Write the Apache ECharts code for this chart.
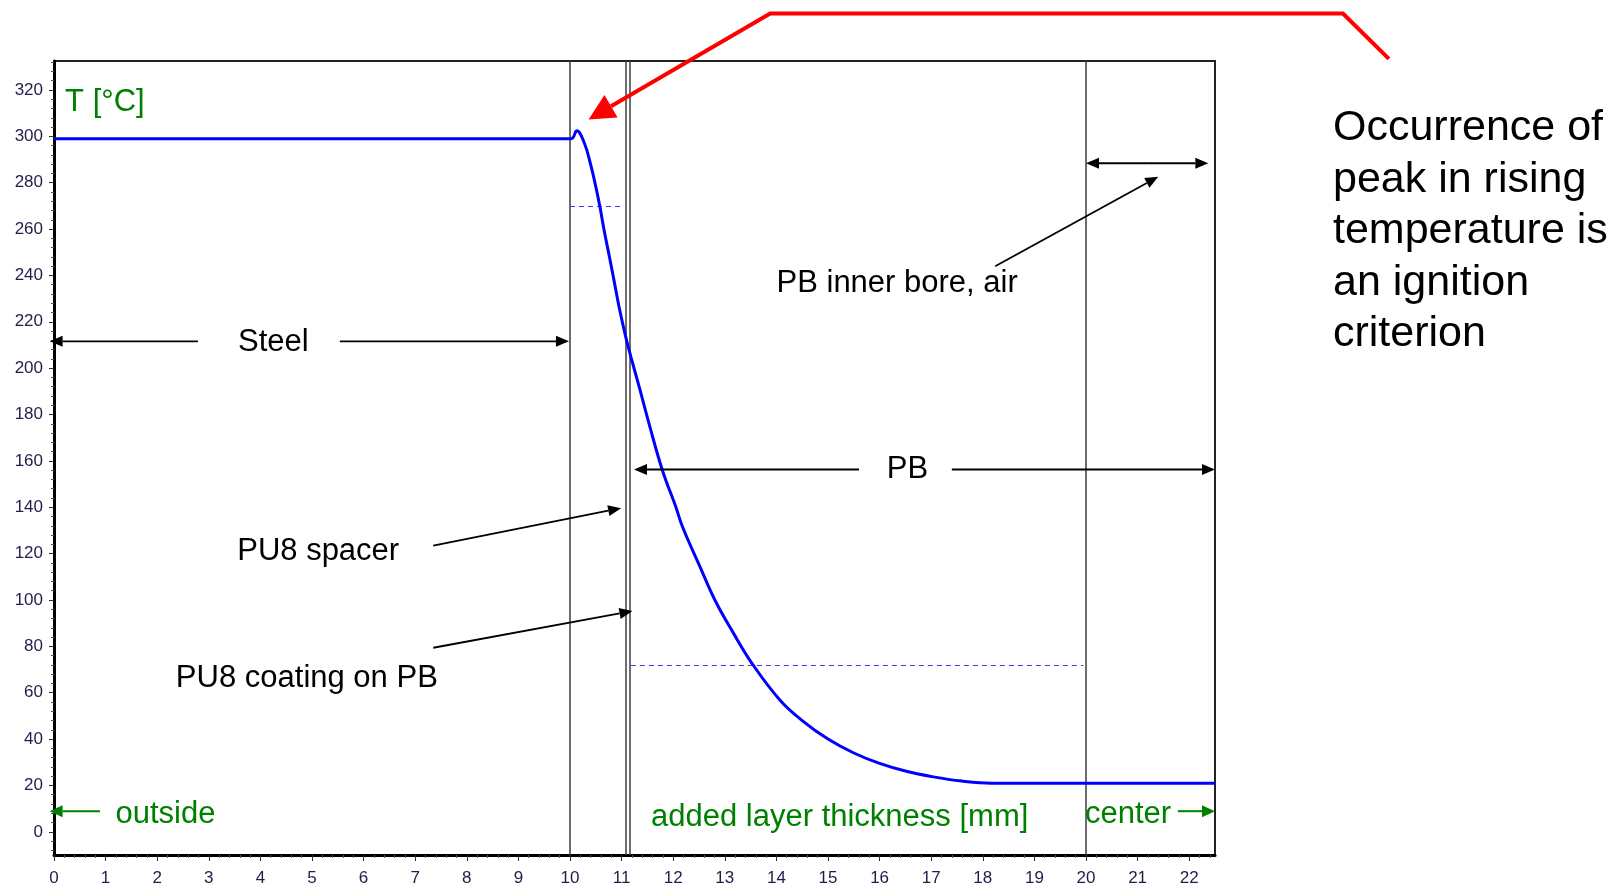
<!DOCTYPE html>
<html>
<head>
<meta charset="utf-8">
<title>Temperature profile through the layers</title>
<script src="https://cdn.jsdelivr.net/npm/echarts@6/dist/echarts.min.js"></script>
<style>
  html, body { margin: 0; padding: 0; background: #fff; }
  #chart { width: 1617px; height: 886px; }
</style>
</head>
<body>
<div id="chart"></div>
<script>
// Temperature [°C] versus added layer thickness [mm]
const thickness = [0, 10.02, 10.13, 10.28, 10.41, 10.50, 10.58, 10.66, 10.76, 10.86, 10.95,
  11.08, 11.18, 11.34, 11.53, 11.79, 12.05, 12.18, 12.52, 12.81, 13.17, 13.55, 14.07,
  14.5, 15.0, 15.5, 16.0, 16.5, 17.04, 17.59, 18.17, 22.5];
const temperature = [299, 299, 302.4, 297, 286.9, 278.3, 269.6, 259.6, 248.5, 237, 226.5,
  213.5, 204.9, 192, 176.2, 156, 140.2, 131.6, 114.3, 99.9, 85.6, 71.9, 56.8,
  48.0, 40.0, 34.0, 29.5, 26.2, 23.7, 21.9, 21, 21];

// Layer boundaries: steel | PU8 spacer | PU8 coating | PB | inner bore
const layerBounds = [10, 11.08, 11.16, 20];

// Dashed reference levels
const refTemps = [270, 72];
const refFrom = [10, 11.18];
const refTo = [11.0, 19.95];

// Tick labels
const xTickValues = [0, 1, 2, 3, 4, 5, 6, 7, 8, 9, 10, 11, 12, 13, 14, 15, 16, 17, 18, 19, 20, 21, 22];
const yTickValues = [0, 20, 40, 60, 80, 100, 120, 140, 160, 180, 200, 220, 240, 260, 280, 300, 320];

const X_MIN = 0, X_MAX = 22.5, Y_MIN = -10, Y_MAX = 332.5;

const xMinor = [];
for (let i = 1; i < 113; i++) { if (i % 5 !== 0) xMinor.push(+(i * 0.2).toFixed(1)); }
const yMinor = [];
for (let v = -8; v < Y_MAX; v += 4) { if (v % 20 !== 0) yMinor.push(v); }

const FONT = '"Liberation Sans", Arial, sans-serif';
const tickLabel = { fontFamily: FONT, fontSize: 17, color: '#1e1e4a' };

const curve = thickness.map((x, i) => [x, temperature[i]]);

const markLines = layerBounds.map(v => ({
  xAxis: v,
  lineStyle: { color: '#3c3c3c', width: 1.5, type: 'solid' }
}));
refTemps.forEach((t, i) => {
  markLines.push([
    { coord: [refFrom[i], t], lineStyle: { color: '#3a3aff', width: 1.2, type: [5, 4] } },
    { coord: [refTo[i], t] }
  ]);
});

const chart = echarts.init(document.getElementById('chart'), null, { renderer: 'canvas' });

const option = {
  animation: false,
  backgroundColor: '#fff',
  grid: {
    left: 54, right: 402, top: 61, bottom: 31,
    containLabel: false,
    outerBoundsMode: 'none',
    show: true, borderColor: '#222', borderWidth: 2, backgroundColor: 'transparent'
  },
  xAxis: [{
    type: 'value', min: X_MIN, max: X_MAX, position: 'bottom',
    axisLine: { show: true, onZero: false, lineStyle: { color: '#000', width: 3 } },
    axisTick: { show: true, customValues: xTickValues, length: 6, lineStyle: { color: '#333', width: 1 } },
    axisLabel: Object.assign({ customValues: xTickValues, margin: 15 }, tickLabel),
    splitLine: { show: false }
  }, {
    type: 'value', min: X_MIN, max: X_MAX, position: 'bottom',
    axisLine: { show: false, onZero: false },
    axisTick: { show: true, customValues: xMinor, length: 3, lineStyle: { color: '#555', width: 1 } },
    axisLabel: { show: false },
    splitLine: { show: false }
  }],
  yAxis: [{
    type: 'value', min: Y_MIN, max: Y_MAX, position: 'left',
    axisLine: { show: true, onZero: false, lineStyle: { color: '#000', width: 3 } },
    axisTick: { show: true, customValues: yTickValues, length: 5, lineStyle: { color: '#333', width: 1 } },
    axisLabel: Object.assign({ customValues: yTickValues, margin: 11 }, tickLabel),
    splitLine: { show: false }
  }, {
    type: 'value', min: Y_MIN, max: Y_MAX, position: 'left',
    axisLine: { show: false, onZero: false },
    axisTick: { show: true, customValues: yMinor, length: 3, lineStyle: { color: '#555', width: 1 } },
    axisLabel: { show: false },
    splitLine: { show: false }
  }],
  series: [{
    type: 'line',
    xAxisIndex: 0, yAxisIndex: 0,
    data: curve,
    showSymbol: false,
    smooth: 0.4,
    lineStyle: { color: '#0000ff', width: 3 },
    z: 3,
    markLine: {
      silent: true,
      symbol: 'none',
      label: { show: false },
      data: markLines,
      z: 2
    }
  }]
};

chart.setOption(option);

// ---- annotations, placed in axis units ----
const P = (x, y) => chart.convertToPixel({ gridIndex: 0 }, [x, y]);

function arrowHead(from, tip, len, half) {
  const dx = tip[0] - from[0], dy = tip[1] - from[1];
  const d = Math.hypot(dx, dy) || 1;
  const ux = dx / d, uy = dy / d;
  const bx = tip[0] - ux * len, by = tip[1] - uy * len;
  return {
    base: [bx, by],
    points: [tip, [bx - uy * half, by + ux * half], [bx + uy * half, by - ux * half]]
  };
}

const graphics = [];

function arrow(fromD, tipD, color, width, len, half) {
  const from = P(fromD[0], fromD[1]);
  const tip = P(tipD[0], tipD[1]);
  const h = arrowHead(from, tip, len, half);
  graphics.push({
    type: 'line', silent: true, z: 10,
    shape: { x1: from[0], y1: from[1], x2: h.base[0], y2: h.base[1] },
    style: { stroke: color, lineWidth: width }
  });
  graphics.push({
    type: 'polygon', silent: true, z: 10,
    shape: { points: h.points },
    style: { fill: color }
  });
}

function label(text, at, color, align, size) {
  const p = P(at[0], at[1]);
  graphics.push({
    type: 'text', silent: true, z: 11,
    x: p[0], y: p[1],
    style: { text: text, font: (size || 31) + 'px ' + FONT, fill: color, align: align || 'center', verticalAlign: 'middle' }
  });
}

const BLACK = '#000';
const GREEN = '#008000';

// Steel
label('Steel', [4.25, 211.3], BLACK);
arrow([2.79, 211.6], [-0.085, 211.6], BLACK, 1.8, 13, 5.5);
arrow([5.54, 211.6], [9.98, 211.6], BLACK, 1.8, 13, 5.5);

// PB
label('PB', [16.54, 156.5], BLACK);
arrow([15.6, 156.3], [11.24, 156.3], BLACK, 1.8, 13, 5.5);
arrow([17.4, 156.3], [22.5, 156.3], BLACK, 1.8, 13, 5.5);

// PB inner bore, air
label('PB inner bore, air', [16.34, 236.7], BLACK);
arrow([18.24, 244.0], [21.4, 282.6], BLACK, 1.8, 13, 5.5);
arrow([21.2, 288.4], [20.0, 288.4], BLACK, 1.8, 13, 5.5);
arrow([21.2, 288.4], [22.37, 288.4], BLACK, 1.8, 13, 5.5);

// PU8 layers
label('PU8 spacer', [5.12, 121.0], BLACK);
arrow([7.35, 123.5], [10.99, 139.6], BLACK, 1.8, 13, 5.5);
label('PU8 coating on PB', [4.9, 66.3], BLACK);
arrow([7.35, 79.4], [11.21, 95.2], BLACK, 1.8, 13, 5.5);

// Axis captions
label('T [°C]', [0.215, 314.5], GREEN, 'left');
label('added layer thickness [mm]', [11.57, 6.3], GREEN, 'left');
label('outside', [1.19, 7.6], GREEN, 'left');
arrow([0.89, 8.9], [-0.085, 8.9], GREEN, 2, 13, 6);
label('center', [19.98, 7.6], GREEN, 'left');
arrow([21.78, 8.9], [22.5, 8.9], GREEN, 2, 13, 6);

// Red pointer to the temperature peak
(function () {
  const pts = [P(25.87, 333.4), P(24.98, 353), P(13.88, 353)];
  const tip = P(10.36, 307.3);
  const h = arrowHead(pts[2], tip, 26, 13);
  graphics.push({
    type: 'polyline', silent: true, z: 12,
    shape: { points: pts.concat([h.base]) },
    style: { stroke: '#ff0000', lineWidth: 4, fill: null, lineJoin: 'miter' }
  });
  graphics.push({
    type: 'polygon', silent: true, z: 12,
    shape: { points: h.points },
    style: { fill: '#ff0000' }
  });
})();

// Side note
graphics.push({
  type: 'text', silent: true, z: 11,
  x: 1333, y: 102.5,
  style: {
    text: 'Occurrence of\npeak in rising\ntemperature is\nan ignition\ncriterion',
    font: '43px ' + FONT, lineHeight: 51.5, fill: '#000', align: 'left', verticalAlign: 'top'
  }
});

chart.setOption({ graphic: { elements: graphics } });
</script>
</body>
</html>
